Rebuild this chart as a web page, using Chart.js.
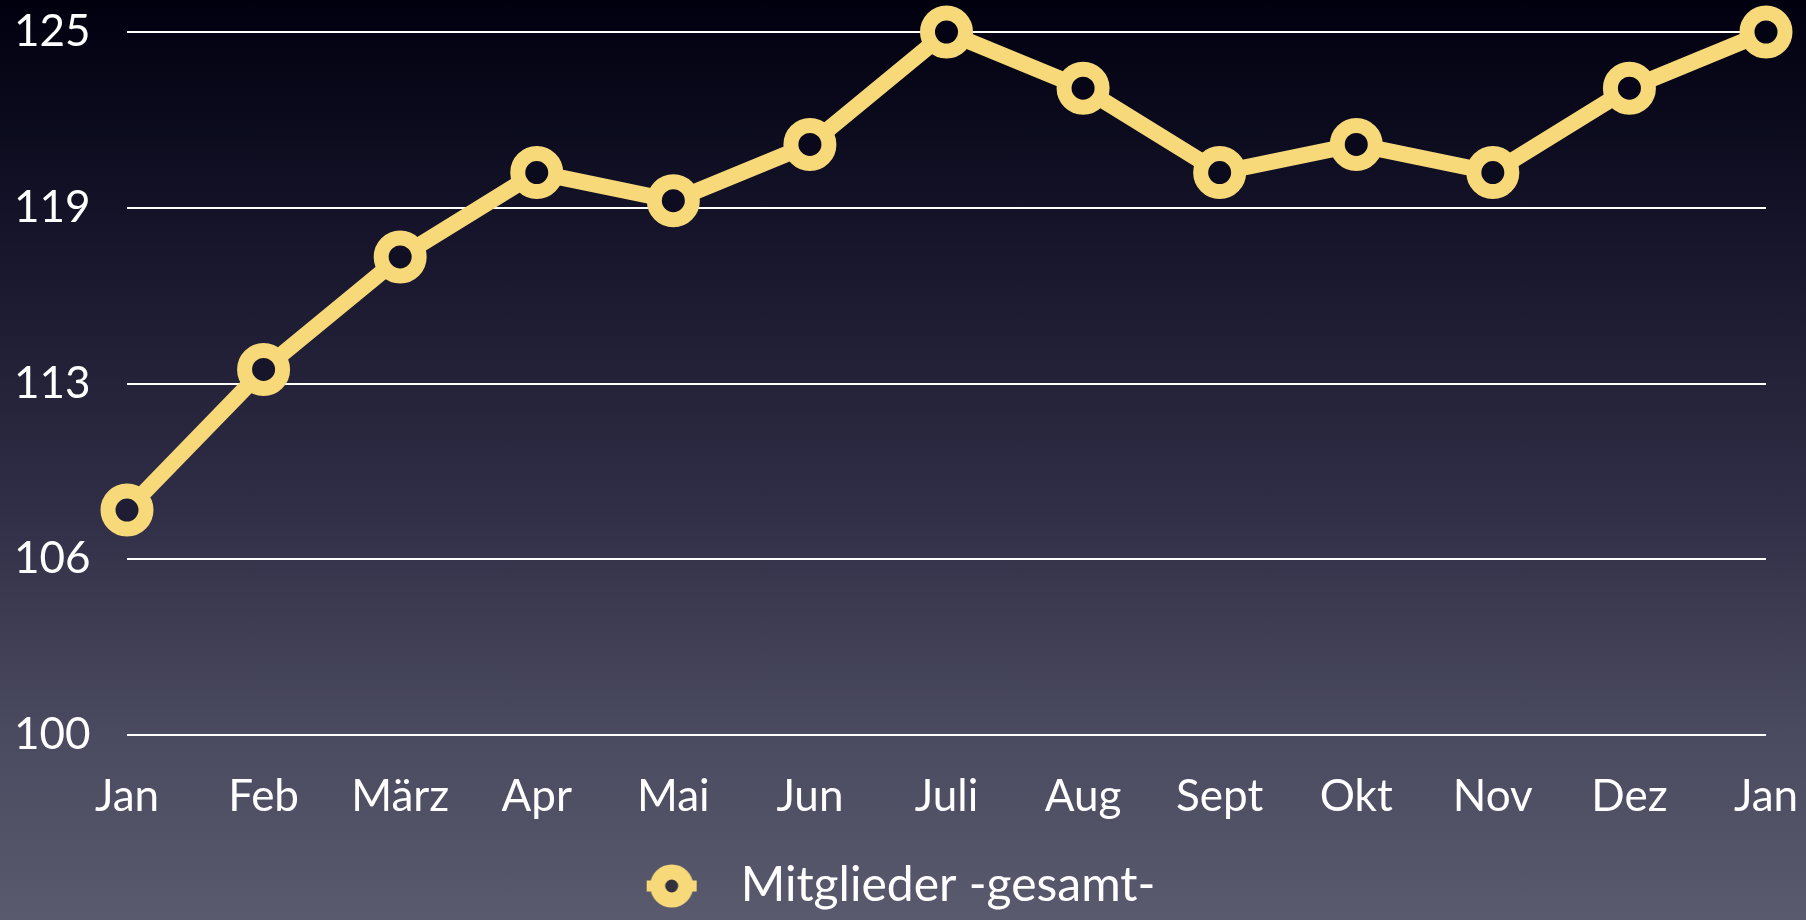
<!DOCTYPE html>
<html>
<head>
<meta charset="utf-8">
<script src="https://cdn.jsdelivr.net/npm/chart.js@4.4.1/dist/chart.umd.min.js"></script>
<style>
  html, body { margin: 0; padding: 0; }
  body { width: 1806px; height: 920px; overflow: hidden; }
  #members { display: block; }
</style>
</head>
<body>
<canvas id="members" width="1806" height="920"></canvas>
<script>
// data
const months = ['Jan', 'Feb', 'März', 'Apr', 'Mai', 'Jun', 'Juli', 'Aug', 'Sept', 'Okt', 'Nov', 'Dez', 'Jan'];
const members = [108, 113, 117, 120, 119, 121, 125, 123, 120, 121, 120, 123, 125];
const seriesName = 'Mitglieder -gesamt-';
const yMin = 100, yMax = 125, yStep = 6.25;

const YELLOW = '#f8d97a';
const FONT = 'Lato, "Open Sans", sans-serif';
const H = 920;

// background gradient stops (position, rgb)
const bgStops = [
  [0.00, [0, 0, 15]],
  [0.25, [21, 20, 42]],
  [0.55, [48, 46, 70]],
  [0.80, [74, 74, 96]],
  [1.00, [90, 90, 110]]
];
document.body.style.background = 'linear-gradient(to bottom, ' +
  bgStops.map(s => `rgb(${s[1].join(',')}) ${s[0] * 100}%`).join(', ') + ')';

function bgAt(y) {
  const t = Math.min(Math.max(y / H, 0), 1);
  for (let i = 1; i < bgStops.length; i++) {
    if (t <= bgStops[i][0]) {
      const [t0, c0] = bgStops[i - 1], [t1, c1] = bgStops[i];
      const k = (t - t0) / (t1 - t0);
      return c0.map((v, j) => v + (c1[j] - v) * k);
    }
  }
  return bgStops[bgStops.length - 1][1];
}

// dark hole inside each ring, a bit darker than the backdrop behind it
function holeColor(ctx) {
  const chart = ctx.chart;
  if (!chart.scales.y || ctx.parsed == null) return '#05051a';
  const py = chart.scales.y.getPixelForValue(ctx.parsed.y);
  const navy = [4, 4, 22];
  const c = bgAt(py).map((v, j) => Math.round(v * 0.6 + navy[j] * 0.4));
  return `rgb(${c.join(',')})`;
}

// legend marker: ring with short line stubs (left part of a wider box, to push the text right)
function legendMarker() {
  const c = document.createElement('canvas');
  c.width = 92; c.height = 48;
  const g = c.getContext('2d');
  g.strokeStyle = YELLOW;
  g.lineWidth = 11;
  g.beginPath(); g.moveTo(22, 24); g.lineTo(72, 24); g.stroke();
  g.beginPath(); g.arc(47, 24, 14, 0, Math.PI * 2);
  g.fillStyle = 'rgb(48,48,62)'; g.fill();
  g.lineWidth = 15; g.stroke();
  return c;
}

const marker = legendMarker();

new Chart(document.getElementById('members'), {
  type: 'line',
  data: {
    labels: months,
    datasets: [{
      label: seriesName,
      data: members,
      borderColor: YELLOW,
      borderWidth: 16,
      pointRadius: 19,
      pointBorderWidth: 15,
      pointBackgroundColor: holeColor,
      pointBorderColor: YELLOW,
      tension: 0,
      clip: false
    }]
  },
  options: {
    responsive: false,
    animation: false,
    devicePixelRatio: 1,
    layout: { autoPadding: false, padding: { left: 14, right: 40, top: 32, bottom: 0 } },
    plugins: {
      tooltip: { enabled: false },
      legend: {
        position: 'bottom',
        labels: {
          color: '#ffffff',
          font: { family: FONT, size: 48 },
          usePointStyle: true,
          pointStyleWidth: 92,
          padding: 8,
          generateLabels: () => [{
            text: seriesName,
            pointStyle: marker,
            fontColor: '#ffffff',
            datasetIndex: 0,
            lineWidth: 0,
            hidden: false
          }]
        }
      }
    },
    scales: {
      x: {
        grid: { display: false },
        border: { display: false },
        ticks: {
          color: '#ffffff',
          font: { family: FONT, size: 44, lineHeight: 2.2 },
          maxRotation: 0,
          autoSkip: false,
          padding: 5
        },
        afterFit: (s) => { s.height = 119; }
      },
      y: {
        min: yMin,
        max: yMax,
        grid: { color: '#ffffff', lineWidth: 2, drawTicks: false },
        border: { display: false },
        ticks: {
          stepSize: yStep,
          color: '#ffffff',
          font: { family: FONT, size: 44 },
          crossAlign: 'far',
          padding: 0,
          callback: (v) => Math.round(v)
        },
        afterFit: (s) => { s.width = 113; }
      }
    }
  }
});
</script>
</body>
</html>
